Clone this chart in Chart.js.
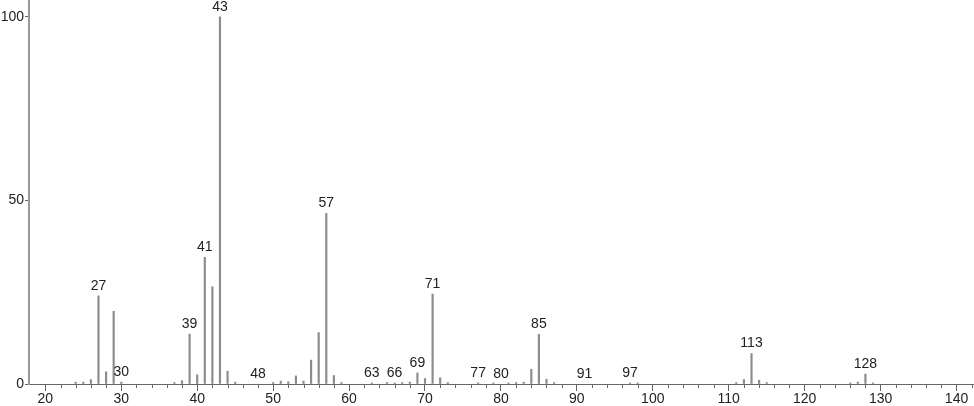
<!DOCTYPE html>
<html>
<head>
<meta charset="utf-8">
<script src="https://cdn.jsdelivr.net/npm/chart.js@4.4.1/dist/chart.umd.min.js"></script>
<style>
  html, body { margin: 0; padding: 0; background: #fff; }
  #wrap { width: 974px; height: 406px; }
</style>
</head>
<body>
<div id="wrap"><canvas id="ms"></canvas></div>
<script>
// m/z values and relative intensities
var mz = [24, 25, 26, 27, 28, 29, 30, 37, 38, 39, 40, 41, 42, 43, 44, 45,
          50, 51, 52, 53, 54, 55, 56, 57, 58, 59, 63, 65, 66, 67, 68, 69, 70, 71, 72, 73,
          77, 79, 81, 82, 83, 84, 85, 86, 87, 97, 98, 111, 112, 113, 114, 115,
          126, 127, 128, 129];
var intensity = [0.5, 0.5, 1.2, 24, 3.3, 19.8, 0.5, 0.4, 0.9, 13.6, 2.5, 34.5, 26.5, 100, 3.5, 0.5,
                 0.4, 0.8, 0.6, 2.2, 0.8, 6.5, 14, 46.5, 2.3, 0.4, 0.3, 0.4, 0.3, 0.4, 0.5, 3, 1.5, 24.5, 1.7, 0.4,
                 0.3, 0.3, 0.3, 0.4, 0.5, 4, 13.5, 1.3, 0.4, 0.3, 0.3, 0.4, 1.2, 8.3, 1, 0.4,
                 0.3, 0.5, 2.7, 0.3];
var peakLabels = [27, 30, 39, 41, 43, 48, 57, 63, 66, 69, 71, 77, 80, 85, 91, 97, 113, 128];
var xTicks = [20, 30, 40, 50, 60, 70, 80, 90, 100, 110, 120, 130, 140];
var yTicks = [0, 50, 100];

var points = [];
for (var i = 0; i < mz.length; i++) {
    points.push({ x: mz[i], y: intensity[i] });
}

function valueAt(m) {
    var k = mz.indexOf(m);
    return k >= 0 ? intensity[k] : 0;
}

var labelPlugin = {
    id: 'peakLabels',
    afterDatasetsDraw: function (chart) {
        var ctx = chart.ctx;
        var xs = chart.scales.x, ys = chart.scales.y;
        ctx.save();
        ctx.font = '14px "Liberation Sans", sans-serif';
        ctx.fillStyle = '#222';
        ctx.textAlign = 'center';
        ctx.textBaseline = 'bottom';
        peakLabels.forEach(function (m) {
            var px = xs.getPixelForValue(m);
            var py = ys.getPixelForValue(valueAt(m));
            ctx.fillText(String(m), px, py - 3);
        });
        ctx.restore();
    }
};

var minorTicks = {
    id: 'minorTicks',
    afterDraw: function (chart) {
        var ctx = chart.ctx;
        var xs = chart.scales.x;
        var y0 = chart.chartArea.bottom;
        ctx.save();
        ctx.strokeStyle = '#666';
        ctx.lineWidth = 1;
        for (var v = 20; v <= 142; v += 2) {
            if (v % 10 === 0) continue;
            var px = Math.round(xs.getPixelForValue(v)) + 0.5;
            ctx.beginPath();
            ctx.moveTo(px, y0);
            ctx.lineTo(px, y0 + 4);
            ctx.stroke();
        }
        ctx.restore();
    }
};

var ctx = document.getElementById('ms').getContext('2d');
var chart = new Chart(ctx, {
    type: 'bar',
    data: {
        datasets: [{
            data: points,
            backgroundColor: '#8c8c8c',
            borderWidth: 0,
            barThickness: 1.5
        }]
    },
    options: {
        responsive: true,
        maintainAspectRatio: false,
        animation: false,
        layout: { padding: { left: 0, right: 0, top: 0, bottom: 0 } },
        plugins: {
            legend: { display: false },
            tooltip: { enabled: false }
        },
        scales: {
            x: {
                type: 'linear',
                offset: false,
                min: 17.85,
                max: 142.3,
                afterBuildTicks: function (scale) {
                    scale.ticks = xTicks.map(function (v) { return { value: v }; });
                },
                afterFit: function (scale) {
                    scale.height = 22;
                    scale.paddingLeft = 0;
                    scale.paddingRight = 0;
                },
                ticks: {
                    autoSkip: false,
                    maxRotation: 0,
                    padding: 0,
                    color: '#222',
                    font: { family: '"Liberation Sans", sans-serif', size: 14 }
                },
                grid: { offset: false, drawOnChartArea: false, drawTicks: true, tickLength: 7, color: '#666' },
                border: { display: true, color: '#666', width: 1 }
            },
            y: {
                min: 0,
                max: 104.6,
                afterBuildTicks: function (scale) {
                    scale.ticks = yTicks.map(function (v) { return { value: v }; });
                },
                afterFit: function (scale) {
                    scale.width = 29;
                    scale.paddingTop = 0;
                    scale.paddingBottom = 0;
                },
                ticks: {
                    padding: 1,
                    color: '#222',
                    font: { family: '"Liberation Sans", sans-serif', size: 14 }
                },
                grid: { drawOnChartArea: false, drawTicks: true, tickLength: 4, color: '#666' },
                border: { display: true, color: '#999', width: 2 }
            }
        }
    },
    plugins: [labelPlugin, minorTicks]
});
</script>
</body>
</html>
